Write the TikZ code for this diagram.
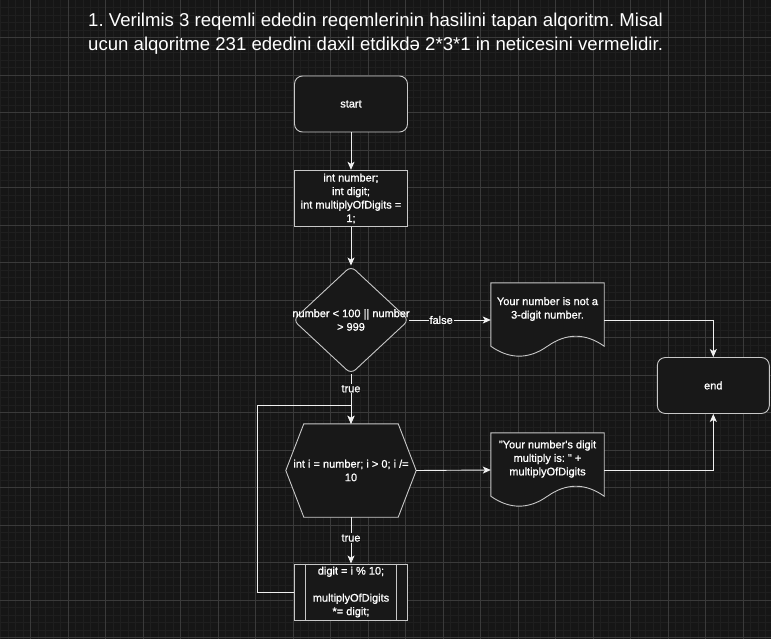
\documentclass[tikz,border=0pt]{standalone}
\usepackage{fontspec}
\setmainfont{Liberation Sans}
\newfontfamily\chartface[FakeBold=1]{Liberation Sans}
\newcommand{\chartfont}{\chartface\fontsize{11}{13.5}\selectfont}
\usetikzlibrary{arrows.meta,shapes.geometric}
\frenchspacing

\definecolor{canvasbg}{RGB}{22,22,22}
\definecolor{gridminor}{RGB}{31,31,31}
\definecolor{gridmajor}{RGB}{58,58,58}
\definecolor{shapefill}{RGB}{24,24,24}
\definecolor{shapeline}{RGB}{200,200,200}
\definecolor{linkcolor}{RGB}{240,240,240}

\pgfdeclarelayer{gridlayer}
\pgfdeclarelayer{shapelayer}
\pgfsetlayers{gridlayer,shapelayer,main}

% document shape with wavy bottom, drawn round a placeholder node
\newcommand{\docoutline}[1]{%
  \draw[outline] (#1.north west) -- (#1.north east) -- ([yshift=11pt]#1.south east)
    .. controls +(-18.8,-13.3) and +(18.8,-13.3) .. ([yshift=11pt]#1.south)
    .. controls +(-18.8,13.3) and +(18.8,13.3) .. ([yshift=11pt]#1.south west) -- cycle;}

\begin{document}
\begin{tikzpicture}[
  x=1pt, y=-1pt,
  txt/.style={text=white, font=\chartfont, align=center},
  terminal/.style={txt, draw=shapeline, fill=shapefill, line width=0.9pt,
    rounded corners=8pt, minimum width=113pt, minimum height=56pt},
  process/.style={txt, draw=shapeline, fill=shapefill, line width=0.9pt,
    inner sep=1pt, minimum width=113pt, minimum height=56.5pt},
  decision/.style={diamond, draw=shapeline, fill=shapefill, line width=0.9pt,
    rounded corners=6pt, inner sep=0pt, minimum width=116pt, minimum height=108pt},
  holder/.style={txt, inner sep=0pt},
  outline/.style={draw=shapeline, fill=shapefill, line width=0.9pt},
  bar/.style={draw=shapeline, line width=0.9pt},
  arrow/.style={draw=linkcolor, line width=0.9pt,
    -{Stealth[length=8pt, width=7pt, inset=2pt]}},
  edgelabel/.style={txt, fill=canvasbg, inner sep=1pt},
  heading/.style={text=white, font=\fontsize{18.6}{24}\selectfont,
    align=left, inner sep=0pt}
]
\useasboundingbox (0,0) rectangle (771,639);

% canvas grid
\begin{pgfonlayer}{gridlayer}
  \fill[canvasbg] (0,0) rectangle (771,639);
  \foreach \gx in {0.7,8.2,...,771} \draw[gridminor, line width=0.6pt] (\gx,0) -- (\gx,639);
  \foreach \gy in {7.5,15,...,639} \draw[gridminor, line width=0.6pt] (0,\gy) -- (771,\gy);
  \foreach \gx in {30.7,68.2,...,771} \draw[gridmajor, line width=0.8pt] (\gx,0) -- (\gx,639);
  \foreach \gy in {37.5,75,...,639} \draw[gridmajor, line width=0.8pt] (0,\gy) -- (771,\gy);
\end{pgfonlayer}

\node[heading, anchor=north west] (title) at (88,13)
  {1. Verilmis 3 reqemli ededin reqemlerinin hasilini tapan alqoritm. Misal\\
   ucun alqoritme 231 ededini daxil etdikdə 2*3*1 in neticesini vermelidir.};

\node[terminal] (start) at (351,104) {start};
\node[process] (vars) at (351,198.5) {int number;\\int digit;\\int multiplyOfDigits =\\1;};
\node[decision, label={[txt]center:{number < 100 || number\\> 999}}] (check) at (351,320) {};
\node[holder, minimum width=113pt, minimum height=74pt,
  label={[txt, yshift=11pt]center:{Your number is not a\\3-digit number.}}] (notdigit) at (547.5,320) {};
\node[terminal, minimum width=112pt] (end) at (713.3,385.5) {end};
\node[holder, minimum width=130pt, minimum height=93pt] (loop) at (351,470.5) {int i = number; i > 0; i /=\\10};
\node[holder, minimum width=113pt, minimum height=74pt,
  label={[txt, yshift=11pt]center:{"Your number's digit\\multiply is: " +\\multiplyOfDigits}}] (result) at (547.5,470) {};
\node[process, minimum height=56pt] (body) at (351,592) {digit = i \% 10;\\[13.5pt]multiplyOfDigits\\{*}= digit;};
\draw[bar] ([xshift=11.5pt]body.north west) -- ([xshift=11.5pt]body.south west)
  ([xshift=-11.5pt]body.north east) -- ([xshift=-11.5pt]body.south east);

% hexagon and document outlines under the texts
\begin{pgfonlayer}{shapelayer}
  \draw[outline] (loop.west) -- ([xshift=18pt]loop.north west) -- ([xshift=-18pt]loop.north east)
    -- (loop.east) -- ([xshift=-18pt]loop.south east) -- ([xshift=18pt]loop.south west) -- cycle;
  \docoutline{notdigit}
  \docoutline{result}
\end{pgfonlayer}

\draw[arrow] (start) -- (vars);
\draw[arrow] (vars) -- (check);
\draw[arrow] (check.east) -- node[edgelabel, pos=0.39] {false} (notdigit.west);
\draw[arrow] (check.south) -- node[edgelabel, pos=0.29] {true} (loop.north);
\draw[arrow] (loop.east) -- (result.west);
\draw[arrow] (loop.south) -- node[edgelabel, pos=0.45] {true} (body.north);
\draw[arrow] (notdigit.east) -| (end.north);
\draw[arrow] (result.east) -| (end.south);

\coordinate (backleft) at (257,405);
\coordinate (backjoin) at (351,405);
\draw[arrow] (body.west) -| (backleft) -- (backjoin) -- (loop.north);
\end{tikzpicture}
\end{document}
